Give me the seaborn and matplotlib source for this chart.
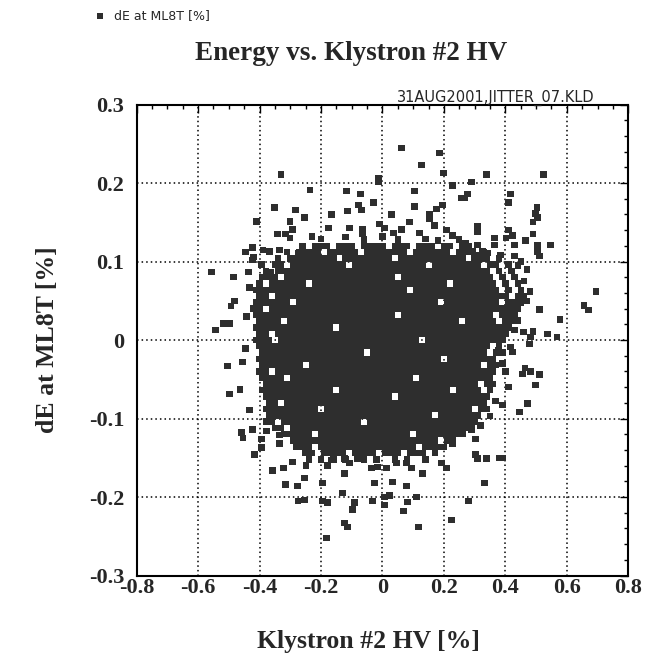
import numpy as np
import pandas as pd
import seaborn as sns
import matplotlib.pyplot as plt
from matplotlib.ticker import AutoMinorLocator, FixedLocator, FixedFormatter

# ---------------- data ----------------
x_ticks = [-0.8, -0.6, -0.4, -0.2, 0.0, 0.2, 0.4, 0.6, 0.8]
x_tick_labels = ["-0.8", "-0.6", "-0.4", "-0.2", "0", "0.2", "0.4", "0.6", "0.8"]
y_ticks = [-0.3, -0.2, -0.1, 0.0, 0.1, 0.2, 0.3]
y_tick_labels = ["-0.3", "-0.2", "-0.1", "0", "0.1", "0.2", "0.3"]

# scattered points outside the dense core
fringe_x = [-0.33, -0.352, -0.283, -0.41, -0.30, -0.293, -0.342, -0.316, -0.30, -0.423, -0.446, -0.388, -0.368, -0.335, -0.274, -0.42,
            0.062, 0.186, 0.127, 0.199, -0.013, -0.013, 0.228, -0.235, -0.117, -0.072, 0.104, 0.257, -0.029, -0.078, -0.068, 0.104,
            0.195, 0.176, -0.254, -0.166, -0.114, 0.029, 0.153, 0.153, -0.176, -0.107, -0.065, -0.065, -0.01, 0.007, 0.088, 0.062,
            0.036, 0.12, 0.169, 0.208, 0.228, -0.23, -0.2, -0.12, -0.06, 0.0, 0.05, 0.14, 0.18, 0.25, 0.27,
            0.339, 0.524, 0.29, 0.277, 0.267, 0.417, 0.41, 0.502, 0.498, 0.505, 0.489, 0.309, 0.309, 0.41, 0.423, 0.401, 0.489,
            0.365, 0.365, 0.466, 0.43, 0.505, 0.505, 0.511, 0.547, 0.309, 0.293, 0.326, 0.342, 0.309, 0.384, 0.43,
            -0.557, -0.485, -0.436, -0.423, -0.394, -0.358, -0.362, -0.433, -0.482, -0.492, -0.443, -0.544, -0.518, -0.498,
            -0.446, -0.456, -0.505, -0.463, -0.498, -0.433,
            0.694, 0.655, 0.671, 0.511, 0.577, 0.44, 0.407, 0.43, 0.459, 0.489, 0.482, 0.479, 0.537, 0.567, 0.378, 0.423, 0.417,
            0.463, 0.456, 0.482, 0.511, 0.498, 0.349, 0.472, 0.446, 0.368, 0.391, 0.47, 0.46, 0.48, 0.47, 0.45, 0.44, 0.40, 0.39, 0.41,
            -0.459, -0.453, -0.423, -0.417, -0.394, -0.394, -0.378, -0.335, -0.335, -0.358, -0.322, -0.293, -0.316, -0.277, -0.274, -0.27,
            0.225, 0.117, 0.068, 0.007, 0.023, 0.007, 0.111, 0.081, -0.033, -0.091, -0.098, -0.13, -0.179, -0.195, -0.124, -0.114,
            -0.182, -0.195, -0.026, 0.033, 0.078, -0.254, -0.254, -0.248, -0.124, -0.107, -0.036, -0.016, 0.013, 0.046, 0.078, 0.094,
            0.13, -0.166, -0.179, -0.124, -0.081, 0.192, 0.208, 0.228,
            0.267, 0.29, 0.319, 0.303, 0.303, 0.309, 0.339, 0.381, 0.391, 0.332, 0.28, 0.35]
fringe_y = [0.211, 0.169, 0.166, 0.151, 0.151, 0.141, 0.135, 0.135, 0.130, 0.118, 0.112, 0.115, 0.113, 0.115, 0.111, 0.106,
            0.245, 0.238, 0.223, 0.213, 0.206, 0.201, 0.197, 0.191, 0.19, 0.186, 0.19, 0.181, 0.175, 0.172, 0.166, 0.17,
            0.172, 0.167, 0.156, 0.16, 0.164, 0.16, 0.16, 0.155, 0.143, 0.143, 0.141, 0.135, 0.148, 0.143, 0.15, 0.141,
            0.136, 0.136, 0.146, 0.14, 0.133, 0.132, 0.129, 0.131, 0.128, 0.132, 0.128, 0.129, 0.127, 0.128, 0.123,
            0.211, 0.211, 0.201, 0.186, 0.181, 0.186, 0.175, 0.169, 0.161, 0.156, 0.15, 0.145, 0.138, 0.14, 0.133, 0.13, 0.135,
            0.13, 0.121, 0.127, 0.121, 0.121, 0.113, 0.107, 0.121, 0.121, 0.113, 0.113, 0.111, 0.108, 0.108, 0.107,
            0.087, 0.08, 0.087, 0.102, 0.096, 0.075, 0.087, 0.067, 0.05, 0.043, 0.03, 0.013, 0.021, 0.021,
            -0.011, -0.028, -0.033, -0.063, -0.069, -0.089,
            0.062, 0.044, 0.038, 0.039, 0.026, 0.025, 0.025, 0.013, 0.01, 0.011, 0.004, -0.005, 0.008, 0.004, -0.013, -0.015, -0.009,
            -0.036, -0.043, -0.04, -0.044, -0.057, -0.062, -0.081, -0.092, -0.078, -0.083, 0.09, 0.075, 0.062, 0.05, 0.1, 0.095, -0.04, -0.03, -0.06,
            -0.118, -0.125, -0.114, -0.146, -0.126, -0.137, -0.116, -0.121, -0.132, -0.166, -0.163, -0.155, -0.184, -0.186, -0.205, -0.135,
            -0.229, -0.238, -0.218, -0.2, -0.198, -0.21, -0.2, -0.206, -0.205, -0.207, -0.216, -0.195, -0.207, -0.205, -0.233, -0.238,
            -0.252, -0.182, -0.182, -0.181, -0.186, -0.204, -0.176, -0.16, -0.17, -0.157, -0.163, -0.162, -0.163, -0.157, -0.157, -0.163,
            -0.17, -0.153, -0.16, -0.151, -0.151, -0.157, -0.163, -0.132,
            -0.109, -0.114, -0.109, -0.126, -0.146, -0.151, -0.151, -0.15, -0.15, -0.182, -0.205, -0.097]

# dense core, read row by row (one row per marker height)
core_row_y = [0.12, 0.112, 0.104, 0.096, 0.088, 0.08, 0.072, 0.064, 0.056, 0.048, 0.04, 0.032, 0.024, 0.016, 0.008, 0.0,
              -0.008, -0.016, -0.024, -0.032, -0.04, -0.048, -0.056, -0.064, -0.072, -0.08, -0.088, -0.096, -0.104,
              -0.112, -0.12, -0.128, -0.136, -0.144, -0.152]
core_row_x = [
    [-0.26,-0.22,-0.2,-0.18,-0.14,-0.12,-0.1,-0.06,-0.04,-0.02,0.0,0.04,0.06,0.08,0.12,0.14,0.16,0.2,0.22,0.26,0.28],
    [-0.31,-0.27,-0.25,-0.23,-0.21,-0.17,-0.15,-0.13,-0.11,-0.09,-0.05,-0.03,-0.01,0.01,0.03,0.05,0.07,0.11,0.13,0.15,0.17,0.19,0.21,0.25,0.27,0.29,0.33],
    [-0.34,-0.3,-0.28,-0.26,-0.24,-0.22,-0.2,-0.18,-0.16,-0.12,-0.1,-0.08,-0.06,-0.04,-0.02,0.0,0.02,0.06,0.08,0.1,0.12,0.14,0.16,0.18,0.2,0.22,0.24,0.26,0.3,0.32,0.34,0.38],
    [-0.35,-0.33,-0.29,-0.27,-0.25,-0.23,-0.21,-0.19,-0.17,-0.15,-0.13,-0.09,-0.07,-0.05,-0.03,-0.01,0.01,0.03,0.05,0.07,0.09,0.11,0.13,0.17,0.19,0.21,0.23,0.25,0.27,0.29,0.31,0.35,0.37,0.41],
    [-0.38,-0.34,-0.32,-0.3,-0.28,-0.26,-0.24,-0.22,-0.2,-0.18,-0.16,-0.14,-0.12,-0.1,-0.08,-0.06,-0.04,-0.02,0.0,0.02,0.04,0.06,0.08,0.1,0.12,0.14,0.16,0.18,0.2,0.22,0.24,0.26,0.28,0.3,0.32,0.34,0.38,0.42],
    [-0.39,-0.37,-0.35,-0.31,-0.29,-0.27,-0.25,-0.23,-0.21,-0.19,-0.17,-0.15,-0.13,-0.11,-0.09,-0.07,-0.05,-0.03,-0.01,0.01,0.03,0.07,0.09,0.11,0.13,0.15,0.17,0.19,0.21,0.23,0.25,0.27,0.29,0.31,0.33,0.35,0.39,0.43],
    [-0.4,-0.36,-0.34,-0.32,-0.3,-0.28,-0.26,-0.22,-0.2,-0.18,-0.16,-0.14,-0.12,-0.1,-0.08,-0.06,-0.04,-0.02,0.0,0.02,0.04,0.06,0.08,0.1,0.12,0.14,0.16,0.18,0.2,0.24,0.26,0.28,0.3,0.32,0.34,0.36,0.4,0.44],
    [-0.41,-0.39,-0.37,-0.35,-0.33,-0.31,-0.29,-0.27,-0.25,-0.23,-0.21,-0.19,-0.17,-0.15,-0.13,-0.11,-0.09,-0.07,-0.05,-0.03,-0.01,0.01,0.03,0.05,0.07,0.11,0.13,0.15,0.17,0.19,0.21,0.23,0.25,0.27,0.29,0.31,0.33,0.35,0.37,0.41,0.45],
    [-0.4,-0.38,-0.34,-0.32,-0.3,-0.28,-0.26,-0.24,-0.22,-0.2,-0.18,-0.16,-0.14,-0.12,-0.1,-0.08,-0.06,-0.04,-0.02,0.0,0.02,0.04,0.06,0.08,0.1,0.12,0.14,0.16,0.18,0.2,0.22,0.24,0.26,0.28,0.3,0.32,0.34,0.36,0.38,0.4,0.44,0.46],
    [-0.41,-0.39,-0.37,-0.35,-0.33,-0.31,-0.27,-0.25,-0.23,-0.21,-0.19,-0.17,-0.15,-0.13,-0.11,-0.09,-0.07,-0.05,-0.03,-0.01,0.01,0.03,0.05,0.07,0.09,0.11,0.13,0.15,0.17,0.21,0.23,0.25,0.27,0.29,0.31,0.33,0.35,0.37,0.41,0.43,0.45],
    [-0.42,-0.4,-0.36,-0.34,-0.32,-0.3,-0.28,-0.26,-0.24,-0.22,-0.2,-0.18,-0.16,-0.14,-0.12,-0.1,-0.08,-0.06,-0.04,-0.02,0.0,0.02,0.04,0.06,0.08,0.1,0.12,0.14,0.16,0.18,0.2,0.22,0.24,0.26,0.28,0.3,0.32,0.34,0.36,0.38,0.4,0.42,0.44],
    [-0.41,-0.39,-0.37,-0.35,-0.33,-0.31,-0.29,-0.27,-0.25,-0.23,-0.21,-0.19,-0.17,-0.15,-0.13,-0.11,-0.09,-0.07,-0.05,-0.03,-0.01,0.01,0.03,0.07,0.09,0.11,0.13,0.15,0.17,0.19,0.21,0.23,0.25,0.27,0.29,0.31,0.33,0.35,0.39,0.41,0.43],
    [-0.4,-0.38,-0.36,-0.34,-0.3,-0.28,-0.26,-0.24,-0.22,-0.2,-0.18,-0.16,-0.14,-0.12,-0.1,-0.08,-0.06,-0.04,-0.02,0.0,0.02,0.04,0.06,0.08,0.1,0.12,0.14,0.16,0.18,0.2,0.22,0.24,0.28,0.3,0.32,0.34,0.36,0.4,0.42],
    [-0.41,-0.39,-0.37,-0.35,-0.33,-0.31,-0.29,-0.27,-0.25,-0.23,-0.21,-0.19,-0.17,-0.13,-0.11,-0.09,-0.07,-0.05,-0.03,-0.01,0.01,0.03,0.05,0.07,0.09,0.11,0.13,0.15,0.17,0.19,0.21,0.23,0.25,0.27,0.29,0.31,0.33,0.35,0.37,0.39,0.41],
    [-0.4,-0.38,-0.34,-0.32,-0.3,-0.28,-0.26,-0.24,-0.22,-0.2,-0.18,-0.16,-0.14,-0.12,-0.1,-0.08,-0.06,-0.04,-0.02,0.0,0.02,0.04,0.06,0.08,0.1,0.12,0.14,0.16,0.18,0.2,0.22,0.24,0.26,0.28,0.3,0.32,0.34,0.36,0.38,0.4],
    [-0.41,-0.39,-0.37,-0.33,-0.31,-0.29,-0.27,-0.25,-0.23,-0.21,-0.19,-0.17,-0.15,-0.13,-0.11,-0.09,-0.07,-0.05,-0.03,-0.01,0.01,0.03,0.05,0.07,0.09,0.11,0.15,0.17,0.19,0.21,0.23,0.25,0.27,0.29,0.31,0.33,0.35,0.37,0.39],
    [-0.4,-0.38,-0.36,-0.34,-0.32,-0.3,-0.28,-0.26,-0.24,-0.22,-0.2,-0.18,-0.16,-0.14,-0.12,-0.1,-0.08,-0.06,-0.04,-0.02,0.0,0.02,0.04,0.06,0.08,0.1,0.12,0.14,0.16,0.18,0.2,0.22,0.24,0.26,0.28,0.3,0.32,0.34,0.38],
    [-0.39,-0.37,-0.35,-0.33,-0.31,-0.29,-0.27,-0.25,-0.23,-0.21,-0.19,-0.17,-0.15,-0.13,-0.11,-0.09,-0.07,-0.03,-0.01,0.01,0.03,0.05,0.07,0.09,0.11,0.13,0.15,0.17,0.19,0.21,0.23,0.25,0.27,0.29,0.31,0.33,0.37,0.39],
    [-0.4,-0.38,-0.36,-0.34,-0.32,-0.3,-0.28,-0.26,-0.24,-0.22,-0.2,-0.18,-0.16,-0.14,-0.12,-0.1,-0.08,-0.06,-0.04,-0.02,0.0,0.02,0.04,0.06,0.08,0.1,0.12,0.14,0.16,0.18,0.22,0.24,0.26,0.28,0.3,0.32,0.34,0.36],
    [-0.39,-0.37,-0.35,-0.33,-0.31,-0.29,-0.27,-0.23,-0.21,-0.19,-0.17,-0.15,-0.13,-0.11,-0.09,-0.07,-0.05,-0.03,-0.01,0.01,0.03,0.05,0.07,0.09,0.11,0.13,0.15,0.17,0.19,0.21,0.23,0.25,0.27,0.29,0.31,0.35,0.37],
    [-0.4,-0.38,-0.34,-0.32,-0.3,-0.28,-0.26,-0.24,-0.22,-0.2,-0.18,-0.16,-0.14,-0.12,-0.1,-0.08,-0.06,-0.04,-0.02,0.0,0.02,0.04,0.06,0.08,0.1,0.12,0.14,0.16,0.18,0.2,0.22,0.24,0.26,0.28,0.3,0.32,0.34,0.36],
    [-0.39,-0.37,-0.35,-0.33,-0.29,-0.27,-0.25,-0.23,-0.21,-0.19,-0.17,-0.15,-0.13,-0.11,-0.09,-0.07,-0.05,-0.03,-0.01,0.01,0.03,0.05,0.07,0.09,0.13,0.15,0.17,0.19,0.21,0.23,0.25,0.27,0.29,0.31,0.33,0.35],
    [-0.38,-0.36,-0.34,-0.32,-0.3,-0.28,-0.26,-0.24,-0.22,-0.2,-0.18,-0.16,-0.14,-0.12,-0.1,-0.08,-0.06,-0.04,-0.02,0.0,0.02,0.04,0.06,0.08,0.1,0.12,0.14,0.16,0.18,0.2,0.22,0.24,0.26,0.28,0.3,0.34,0.36],
    [-0.39,-0.37,-0.35,-0.33,-0.31,-0.29,-0.27,-0.25,-0.23,-0.21,-0.19,-0.17,-0.13,-0.11,-0.09,-0.07,-0.05,-0.03,-0.01,0.01,0.03,0.05,0.07,0.09,0.11,0.13,0.15,0.17,0.19,0.21,0.25,0.27,0.29,0.31,0.35],
    [-0.38,-0.36,-0.34,-0.32,-0.3,-0.28,-0.26,-0.24,-0.22,-0.2,-0.18,-0.16,-0.14,-0.12,-0.1,-0.08,-0.06,-0.04,-0.02,0.0,0.02,0.06,0.08,0.1,0.12,0.14,0.16,0.18,0.2,0.22,0.24,0.26,0.28,0.3,0.32,0.34],
    [-0.37,-0.35,-0.31,-0.29,-0.27,-0.25,-0.23,-0.21,-0.19,-0.17,-0.15,-0.13,-0.11,-0.09,-0.07,-0.05,-0.03,-0.01,0.01,0.03,0.05,0.07,0.09,0.11,0.13,0.15,0.17,0.19,0.21,0.23,0.25,0.27,0.29,0.31,0.33],
    [-0.38,-0.36,-0.34,-0.32,-0.3,-0.28,-0.26,-0.24,-0.22,-0.18,-0.16,-0.14,-0.12,-0.1,-0.08,-0.06,-0.04,-0.02,0.0,0.02,0.04,0.06,0.08,0.1,0.12,0.14,0.16,0.18,0.2,0.22,0.24,0.26,0.28,0.32,0.34],
    [-0.37,-0.35,-0.33,-0.31,-0.29,-0.27,-0.25,-0.23,-0.21,-0.19,-0.17,-0.15,-0.13,-0.11,-0.09,-0.07,-0.05,-0.03,-0.01,0.01,0.03,0.05,0.07,0.09,0.11,0.13,0.15,0.19,0.21,0.23,0.25,0.27,0.29,0.31],
    [-0.38,-0.36,-0.32,-0.3,-0.28,-0.26,-0.24,-0.22,-0.2,-0.18,-0.16,-0.14,-0.12,-0.1,-0.08,-0.04,-0.02,0.0,0.02,0.04,0.06,0.08,0.1,0.12,0.14,0.16,0.18,0.2,0.22,0.24,0.26,0.28,0.3],
    [-0.35,-0.33,-0.29,-0.27,-0.25,-0.23,-0.21,-0.19,-0.17,-0.15,-0.13,-0.11,-0.09,-0.07,-0.05,-0.03,-0.01,0.01,0.03,0.05,0.07,0.09,0.11,0.13,0.15,0.17,0.19,0.21,0.23,0.25,0.27,0.29],
    [-0.32,-0.3,-0.28,-0.26,-0.24,-0.2,-0.18,-0.16,-0.14,-0.12,-0.1,-0.08,-0.06,-0.04,-0.02,0.0,0.02,0.04,0.06,0.08,0.12,0.14,0.16,0.18,0.2,0.22,0.24,0.26],
    [-0.29,-0.27,-0.25,-0.23,-0.21,-0.19,-0.17,-0.15,-0.13,-0.11,-0.09,-0.07,-0.05,-0.03,-0.01,0.01,0.03,0.05,0.07,0.09,0.11,0.13,0.15,0.17,0.21,0.23],
    [-0.28,-0.26,-0.24,-0.2,-0.18,-0.16,-0.14,-0.12,-0.1,-0.08,-0.06,-0.04,-0.02,0.0,0.02,0.04,0.06,0.08,0.1,0.14,0.16,0.18,0.2],
    [-0.25,-0.23,-0.19,-0.17,-0.15,-0.13,-0.09,-0.07,-0.05,-0.03,0.01,0.03,0.05,0.09,0.11,0.13,0.17],
    [-0.24,-0.2,-0.16,-0.12,-0.06,-0.02,0.04,0.08,0.14],
]

# ---------------- build table ----------------
core_x = [xv for row in core_row_x for xv in row]
core_y = [yv for yv, row in zip(core_row_y, core_row_x) for _ in row]
df = pd.DataFrame({"hv": fringe_x + core_x, "de": fringe_y + core_y})

# ---------------- figure ----------------
sns.set_theme(style="white")
plt.rcParams["font.family"] = ["Liberation Serif", "DejaVu Serif"]

fig = plt.figure(figsize=(6.49, 6.57), dpi=100)
ax = fig.add_axes([0.2106, 0.1240, 0.7575, 0.7169])

sns.scatterplot(data=df, x="hv", y="de", marker="s", s=21, color="#2e2e2e",
                linewidth=0, edgecolor="none", ax=ax, label="dE at ML8T [%]")

ax.set_xlim(-0.8, 0.8)
ax.set_ylim(-0.3, 0.3)
ax.xaxis.set_major_locator(FixedLocator(x_ticks))
ax.xaxis.set_major_formatter(FixedFormatter(x_tick_labels))
ax.yaxis.set_major_locator(FixedLocator(y_ticks))
ax.yaxis.set_major_formatter(FixedFormatter(y_tick_labels))
ax.xaxis.set_minor_locator(AutoMinorLocator(4))
ax.yaxis.set_minor_locator(AutoMinorLocator(5))

ax.tick_params(which="both", direction="in", top=True, right=True, color="black", width=1.0)
ax.tick_params(which="major", length=6)
ax.tick_params(which="minor", length=3)
ax.tick_params(axis="x", which="major", pad=2, labelsize=16)
ax.tick_params(axis="y", which="major", pad=9, labelsize=16)
for lab in ax.get_xticklabels() + ax.get_yticklabels():
    lab.set_fontweight("bold")

ax.grid(True, which="major", color="black", linestyle=(0, (1, 2)), linewidth=1.1)
for sp in ax.spines.values():
    sp.set_color("black")
    sp.set_linewidth(1.5)

ax.set_xlabel("Klystron #2 HV [%]", fontsize=18.5, fontweight="bold")
ax.set_ylabel("dE at ML8T [%]", fontsize=18.5, fontweight="bold")
ax.xaxis.set_label_coords(0.471, -0.115)
ax.yaxis.set_label_coords(-0.158, 0.5)

ax.set_title("Energy vs. Klystron #2 HV", fontsize=19.5, fontweight="bold",
             x=0.436, y=1.0945, pad=0)
ax.text(0.932, 1.005, "31AUG2001,JITTER_07.KLD", transform=ax.transAxes,
        ha="right", va="baseline", fontsize=10.5, family="DejaVu Sans")

leg = ax.legend(loc="center left", bbox_to_anchor=(94 / 649, 1 - 16 / 657),
                bbox_transform=fig.transFigure, frameon=False, borderpad=0,
                borderaxespad=0, handlelength=1.0, handletextpad=0.6,
                markerscale=0.9, prop={"family": "DejaVu Sans", "size": 9})

fig.savefig("out.png", dpi=100, facecolor="white")
